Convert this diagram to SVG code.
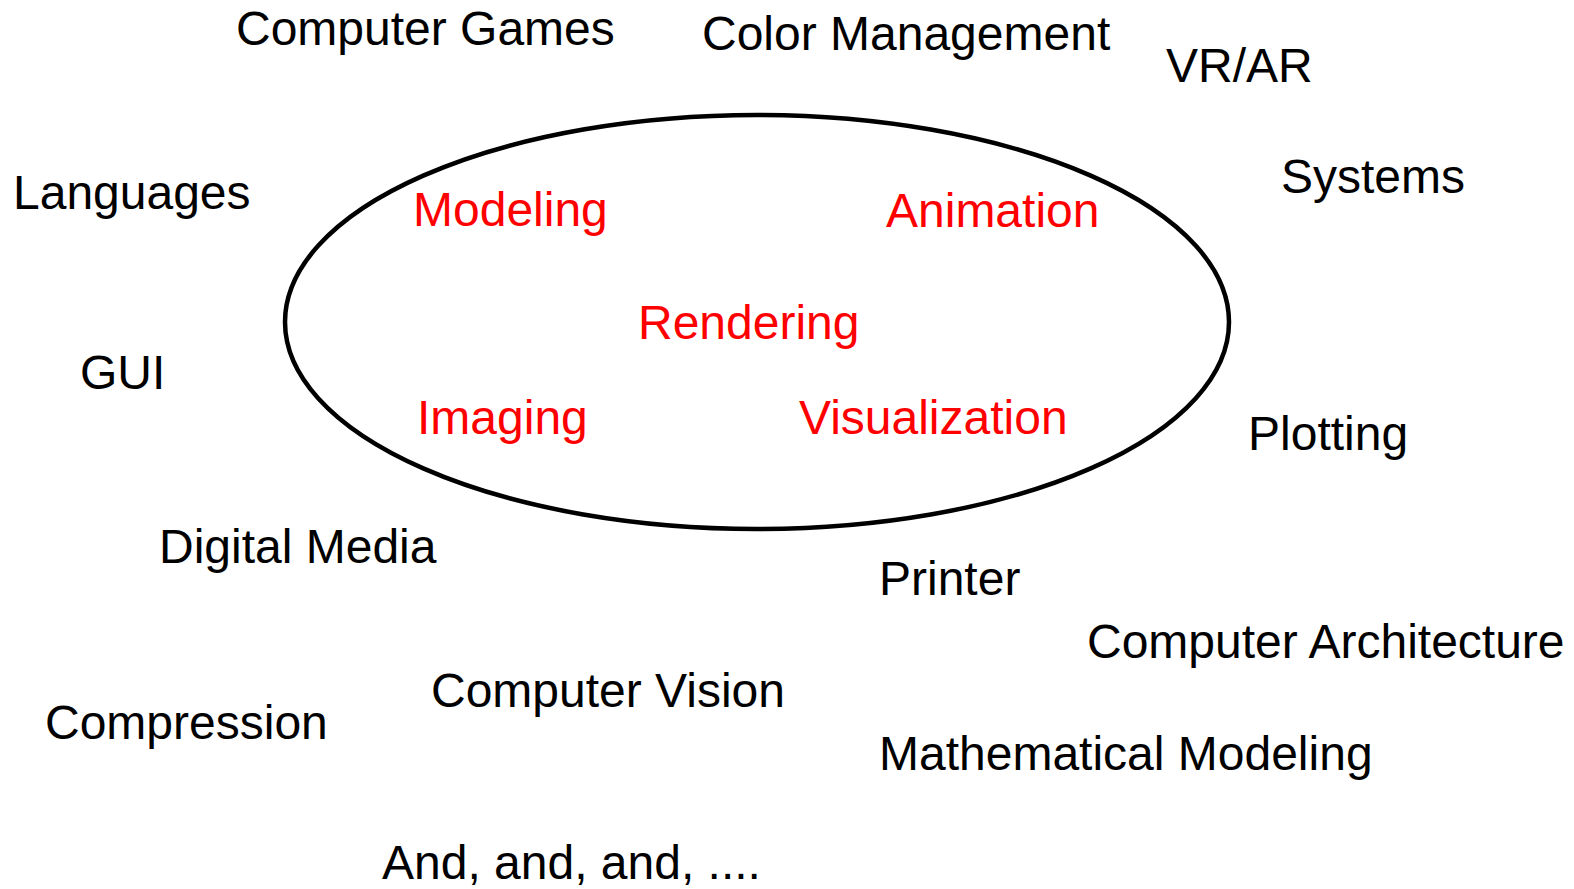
<svg xmlns="http://www.w3.org/2000/svg" width="1574" height="889" viewBox="0 0 1574 889">
<style>
text{font-family:"Liberation Sans",Arial,sans-serif;font-size:48px;fill:#000}
.in{fill:#ff0000}
</style>
<rect width="1574" height="889" fill="#fff"/>
<g id="core">
<ellipse cx="757" cy="322" rx="472" ry="207" fill="none" stroke="#000" stroke-width="4.5"/>
</g>
<g id="inner">
<text class="in" x="413" y="226">Modeling</text>
<text class="in" x="886" y="227">Animation</text>
<text class="in" x="638" y="339">Rendering</text>
<text class="in" x="417" y="434">Imaging</text>
<text class="in" x="799" y="434">Visualization</text>
</g>
<g id="outer">
<text x="236" y="45">Computer Games</text>
<text x="702" y="50">Color Management</text>
<text x="1166" y="82">VR/AR</text>
<text x="1281" y="193">Systems</text>
<text x="13" y="209">Languages</text>
<text x="80" y="389">GUI</text>
<text x="1248" y="450">Plotting</text>
<text x="159" y="563">Digital Media</text>
<text x="879" y="595">Printer</text>
<text x="1087" y="658">Computer Architecture</text>
<text x="431" y="707">Computer Vision</text>
<text x="45" y="739">Compression</text>
<text x="879" y="770">Mathematical Modeling</text>
<text x="382" y="879">And, and, and, ....</text>
</g>
</svg>
